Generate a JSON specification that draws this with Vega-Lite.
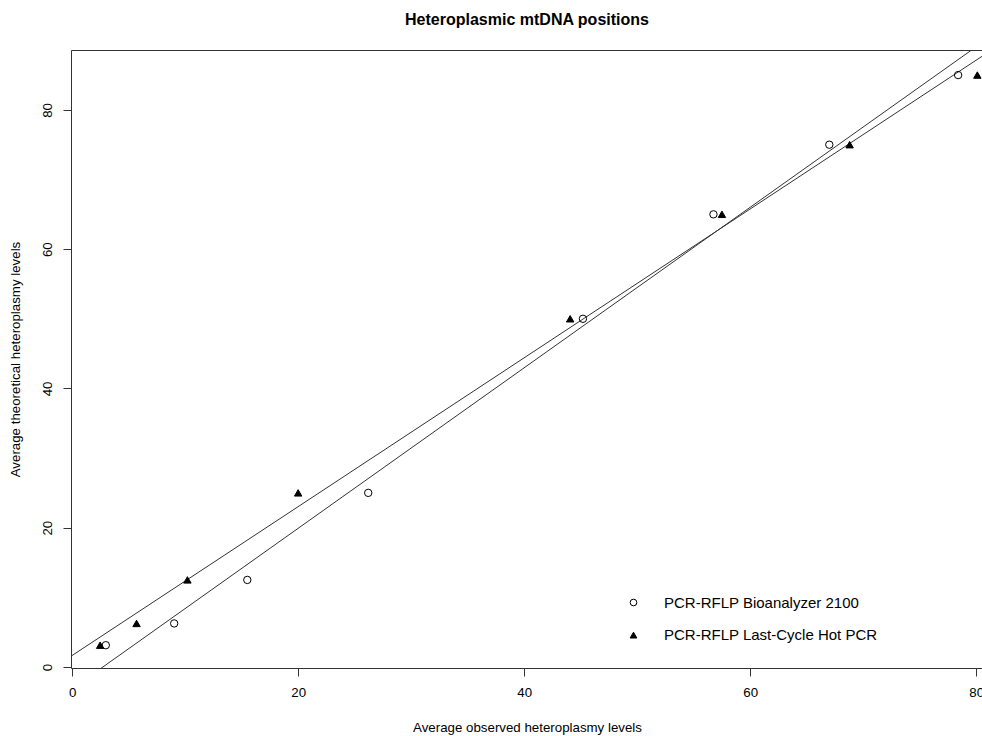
{
  "$schema": "https://vega.github.io/schema/vega-lite/v6.json",
  "width": 912,
  "height": 618,
  "autosize": "none",
  "padding": {"left": 71, "top": 50, "right": 0, "bottom": 68},
  "background": "white",
  "title": {
    "text": "Heteroplasmic mtDNA positions",
    "font": "Liberation Sans",
    "fontSize": 16,
    "fontWeight": "bold",
    "color": "black",
    "anchor": "middle",
    "frame": "group",
    "baseline": "alphabetic",
    "offset": 9
  },
  "config": {
    "font": "Liberation Sans",
    "view": {"stroke": "#333", "strokeWidth": 1},
    "axis": {
      "grid": false,
      "domain": false,
      "tickColor": "#333",
      "tickSize": 8,
      "tickWidth": 1,
      "labelFont": "Liberation Sans",
      "labelFontSize": 13.3,
      "labelColor": "black",
      "titleFont": "Liberation Sans",
      "titleFontSize": 13.3,
      "titleFontWeight": "normal",
      "titleColor": "black"
    },
    "legend": {
      "title": null,
      "orient": "none",
      "legendX": 555,
      "legendY": 545,
      "padding": 0,
      "labelFont": "Liberation Sans",
      "labelFontSize": 15,
      "labelColor": "black",
      "labelLimit": 0,
      "labelOffset": 23,
      "rowPadding": 16.6,
      "symbolSize": 45,
      "symbolStrokeWidth": 1
    }
  },
  "data": {
    "values": [
      {"series": "PCR-RFLP Bioanalyzer 2100", "observed": 2.98, "theoretical": 3.125},
      {"series": "PCR-RFLP Bioanalyzer 2100", "observed": 9.03, "theoretical": 6.25},
      {"series": "PCR-RFLP Bioanalyzer 2100", "observed": 15.5, "theoretical": 12.5},
      {"series": "PCR-RFLP Bioanalyzer 2100", "observed": 26.2, "theoretical": 25},
      {"series": "PCR-RFLP Bioanalyzer 2100", "observed": 45.2, "theoretical": 50},
      {"series": "PCR-RFLP Bioanalyzer 2100", "observed": 56.75, "theoretical": 65},
      {"series": "PCR-RFLP Bioanalyzer 2100", "observed": 67.0, "theoretical": 75},
      {"series": "PCR-RFLP Bioanalyzer 2100", "observed": 78.4, "theoretical": 85},
      {"series": "PCR-RFLP Last-Cycle Hot PCR", "observed": 2.48, "theoretical": 3.125},
      {"series": "PCR-RFLP Last-Cycle Hot PCR", "observed": 5.7, "theoretical": 6.25},
      {"series": "PCR-RFLP Last-Cycle Hot PCR", "observed": 10.2, "theoretical": 12.5},
      {"series": "PCR-RFLP Last-Cycle Hot PCR", "observed": 20.0, "theoretical": 25},
      {"series": "PCR-RFLP Last-Cycle Hot PCR", "observed": 44.07, "theoretical": 50},
      {"series": "PCR-RFLP Last-Cycle Hot PCR", "observed": 57.5, "theoretical": 65},
      {"series": "PCR-RFLP Last-Cycle Hot PCR", "observed": 68.8, "theoretical": 75},
      {"series": "PCR-RFLP Last-Cycle Hot PCR", "observed": 80.1, "theoretical": 85}
    ]
  },
  "encoding": {
    "x": {
      "field": "observed",
      "type": "quantitative",
      "scale": {"domain": [-0.1, 80.6], "nice": false, "zero": false},
      "axis": {
        "values": [0, 20, 40, 60, 80],
        "labelPadding": 9,
        "title": "Average observed heteroplasmy levels",
        "titlePadding": 22
      }
    },
    "y": {
      "field": "theoretical",
      "type": "quantitative",
      "scale": {"domain": [-0.15, 88.6], "nice": false, "zero": false},
      "axis": {
        "values": [0, 20, 40, 60, 80],
        "labelAngle": 270,
        "labelAlign": "center",
        "labelBaseline": "alphabetic",
        "labelPadding": 12,
        "title": "Average theoretical heteroplasmy levels",
        "titlePadding": 18
      }
    }
  },
  "layer": [
    {
      "transform": [
        {"regression": "theoretical", "on": "observed", "groupby": ["series"], "extent": [-1, 82]}
      ],
      "mark": {"type": "line", "clip": true, "color": "#333", "strokeWidth": 1},
      "encoding": {
        "detail": {"field": "series", "type": "nominal"}
      }
    },
    {
      "mark": {"type": "point", "strokeWidth": 1, "opacity": 1, "size": 55},
      "encoding": {
        "shape": {
          "field": "series",
          "type": "nominal",
          "scale": {
            "domain": ["PCR-RFLP Bioanalyzer 2100", "PCR-RFLP Last-Cycle Hot PCR"],
            "range": ["circle", "triangle-up"]
          }
        },
        "fill": {
          "field": "series",
          "type": "nominal",
          "scale": {
            "domain": ["PCR-RFLP Bioanalyzer 2100", "PCR-RFLP Last-Cycle Hot PCR"],
            "range": ["transparent", "black"]
          }
        },
        "stroke": {
          "field": "series",
          "type": "nominal",
          "scale": {
            "domain": ["PCR-RFLP Bioanalyzer 2100", "PCR-RFLP Last-Cycle Hot PCR"],
            "range": ["black", "black"]
          }
        }
      }
    }
  ]
}
